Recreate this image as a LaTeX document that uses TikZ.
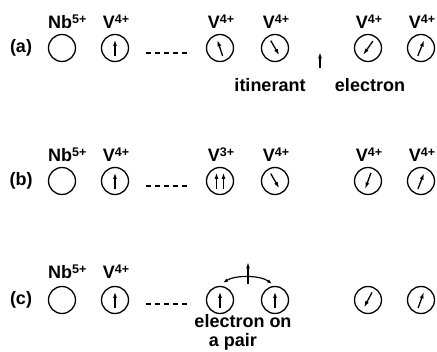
\documentclass[tikz,border=0pt]{standalone}
\usepackage{fontspec}
\setmainfont{Liberation Sans}
\usetikzlibrary{arrows.meta}
\newcommand{\ion}[2]{#1\raisebox{5pt}{\fontsize{12.5}{12.5}\selectfont #2}}
\newcommand{\spinat}[2]{\draw[spinarrow] ([shift={(#2+180:8.5pt)}]#1.center) -- ([shift={(#2:8.5pt)}]#1.center);}
\begin{document}
\begin{tikzpicture}[x=1pt,y=-1pt,
  site/.style={circle,draw,line width=1.3pt,minimum size=27pt,inner sep=0pt},
  spinarrow/.style={line width=1.3pt,-{Latex[length=6.5pt,width=4pt]}},
  lbl/.style={font=\bfseries\fontsize{18}{18}\selectfont,inner sep=0pt},
  dots/.style={line width=1.2pt,dash pattern=on 5pt off 4pt}]
\useasboundingbox (0,0) rectangle (437,352);
% ---------- row (a)
\node[lbl] (pa) at (21,48) {(a)};
\foreach \n/\x in {1/62,2/115,3/220,4/275,5/368,6/421}{\node[site] (a\n) at (\x,48) {};}
\node[lbl,anchor=base west] (la1) at (48,29) {\ion{Nb}{5+}};
\foreach \n/\x in {2/116,3/221,4/276,5/369,6/422}{\node[lbl,anchor=base] (la\n) at (\x,29) {\ion{V}{4+}};}
\coordinate (da1) at (146,53); \coordinate (da2) at (187,53);
\draw[dots] (da1) -- (da2);
\spinat{a2}{90}
\spinat{a3}{108}
\spinat{a4}{-60}
\spinat{a5}{-125}
\spinat{a6}{68}
\coordinate (ie1) at (320,68); \coordinate (ie2) at (320,52);
\draw[spinarrow] (ie1) -- (ie2);
\node[lbl,anchor=base] (it) at (270,92) {itinerant};
\node[lbl,anchor=base] (el) at (370,92) {electron};
% ---------- row (b)
\node[lbl] (pb) at (21,181) {(b)};
\foreach \n/\x in {1/62,2/115,3/220,4/275,5/368,6/421}{\node[site] (b\n) at (\x,181) {};}
\node[lbl,anchor=base west] (lb1) at (48,162) {\ion{Nb}{5+}};
\foreach \n/\x in {2/116,4/276,5/369,6/422}{\node[lbl,anchor=base] (lb\n) at (\x,162) {\ion{V}{4+}};}
\node[lbl,anchor=base] (lb3) at (221,162) {\ion{V}{3+}};
\coordinate (db1) at (146,186); \coordinate (db2) at (187,186);
\draw[dots] (db1) -- (db2);
\spinat{b2}{90}
\draw[spinarrow] ([shift={(-3.5pt,-8.5pt)}]b3.center) -- ([shift={(-3.5pt,8.5pt)}]b3.center);
\draw[spinarrow] ([shift={(3.5pt,-8.5pt)}]b3.center) -- ([shift={(3.5pt,8.5pt)}]b3.center);
\spinat{b4}{-60}
\spinat{b5}{-110}
\spinat{b6}{69}
% ---------- row (c)
\node[lbl] (pc) at (21,300) {(c)};
\foreach \n/\x in {1/62,2/115,3/220,4/275,5/368,6/421}{\node[site] (c\n) at (\x,300) {};}
\node[lbl,anchor=base west] (lc1) at (48,279) {\ion{Nb}{5+}};
\node[lbl,anchor=base] (lc2) at (116,279) {\ion{V}{4+}};
\coordinate (dc1) at (146,304); \coordinate (dc2) at (187,304);
\draw[dots] (dc1) -- (dc2);
\spinat{c2}{90}
\spinat{c3}{90}
\spinat{c4}{90}
\spinat{c5}{-118}
\spinat{c6}{70}
\coordinate (ar1) at ([shift={(3pt,3pt)}]c3.north);
\coordinate (ar2) at ([shift={(-3pt,2pt)}]c4.north);
\draw[line width=1.2pt,{Latex[length=5pt,width=3.5pt]}-{Latex[length=5pt,width=3.5pt]}]
  (ar1) .. controls (235,275) and (260,275) .. (ar2);
\coordinate (up1) at (248,284); \coordinate (up2) at (248,262);
\draw[spinarrow] (up1) -- (up2);
\node[lbl,anchor=base] (eo) at (243,328) {electron on};
\node[lbl,anchor=base] (ap) at (233,346.5) {a pair};
\end{tikzpicture}
\end{document}
